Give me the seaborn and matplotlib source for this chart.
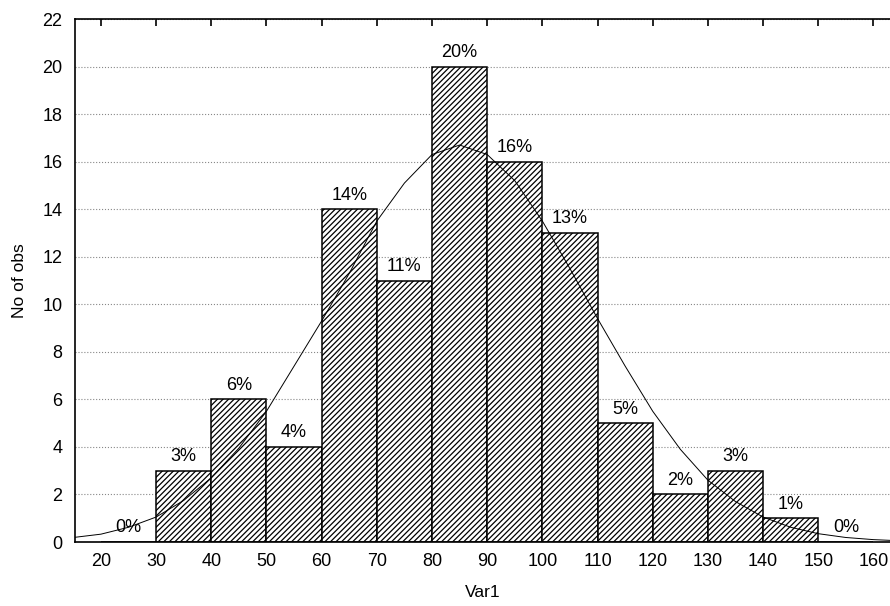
import numpy as np
import pandas as pd
import matplotlib
matplotlib.use("Agg")
import matplotlib.pyplot as plt
import seaborn as sns

# histogram bins (Var1) and counts
bin_edges = [20, 30, 40, 50, 60, 70, 80, 90, 100, 110, 120, 130, 140, 150, 160]
bin_mids = [25, 35, 45, 55, 65, 75, 85, 95, 105, 115, 125, 135, 145, 155]
counts = [0, 3, 6, 4, 14, 11, 20, 16, 13, 5, 2, 3, 1, 0]
pct_labels = ["0%", "3%", "6%", "4%", "14%", "11%", "20%", "16%", "13%",
              "5%", "2%", "3%", "1%", "0%"]

# fitted normal curve
curve_x = [15, 20, 25, 30, 35, 40, 45, 50, 55, 60, 65, 70, 75, 80, 85, 90,
           95, 100, 105, 110, 115, 120, 125, 130, 135, 140, 145, 150, 155, 160, 163]
curve_y = [0.19, 0.33, 0.62, 1.05, 1.75, 2.7, 3.95, 5.5, 7.4, 9.3, 11.3, 13.5,
           15.1, 16.3, 16.7, 16.3, 15.2, 13.5, 11.5, 9.4, 7.4, 5.5, 3.9, 2.6,
           1.7, 1.05, 0.62, 0.35, 0.19, 0.1, 0.07]

sns.set_style("white")
plt.rcParams['font.family'] = ['Liberation Sans', 'DejaVu Sans']
plt.rcParams['hatch.linewidth'] = 0.9
plt.rcParams['hatch.color'] = 'black'
plt.rcParams['text.color'] = 'black'
plt.rcParams['axes.labelcolor'] = 'black'
plt.rcParams['xtick.color'] = 'black'
plt.rcParams['ytick.color'] = 'black'

fig = plt.figure(figsize=(8.9, 6.06), dpi=100)
ax = fig.add_axes([0.0843, 0.1056, 0.9157, 0.863])

df = pd.DataFrame({'Var1': bin_mids, 'n': counts})
sns.histplot(data=df, x='Var1', weights='n', bins=bin_edges, color='white',
             edgecolor='black', linewidth=1.1, alpha=1, ax=ax, zorder=2)
for p in ax.patches:
    p.set_hatch('//////')

sns.lineplot(x=curve_x, y=curve_y, color='black', linewidth=0.7, ax=ax, zorder=3)

# percentage labels above bars
for mid, c, lab in zip(bin_mids, counts, pct_labels):
    ax.annotate(lab, (mid, c), xytext=(0, 4), textcoords='offset points',
                ha='center', va='bottom', fontsize=13, zorder=4)

ax.set_xlim(15.3, 163)
ax.set_ylim(0, 22)
ax.set_xticks(range(20, 161, 10))
ax.set_yticks(range(0, 23, 2))
ax.yaxis.grid(True, linestyle=':', color='#888888', linewidth=0.8)
ax.set_axisbelow(True)

ax.tick_params(axis='x', direction='in', top=True, length=5, width=1.2,
               labelsize=13, pad=8)
ax.tick_params(axis='y', direction='out', length=4, width=1.0,
               labelsize=13, pad=5)

for s in ['left', 'bottom', 'top']:
    ax.spines[s].set_color('black')
    ax.spines[s].set_linewidth(1.2)
ax.spines['right'].set_visible(False)

ax.set_xlabel("Var1", fontsize=12.5, labelpad=11)
ax.set_ylabel("No of obs", fontsize=12.5, labelpad=11)

plt.savefig("out.png", dpi=100)
